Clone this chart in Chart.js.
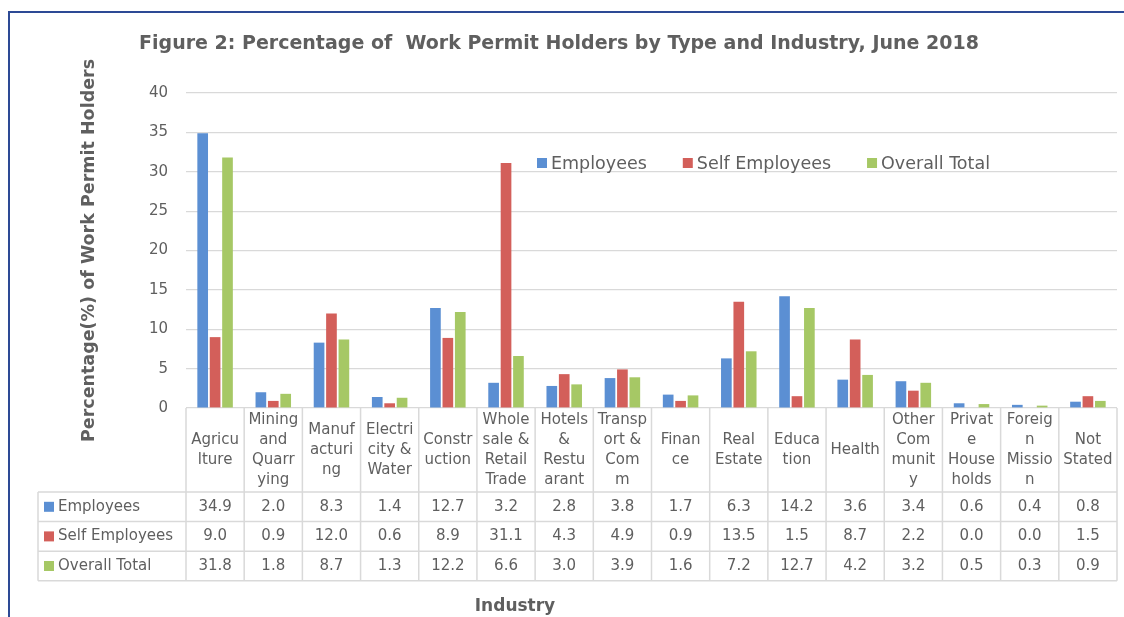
<!DOCTYPE html>
<html>
<head>
<meta charset="utf-8">
<script src="https://cdn.jsdelivr.net/npm/chart.js@4/dist/chart.umd.min.js"></script>
<style>
  html, body { margin: 0; padding: 0; background: #fff; }
  #wrap { position: relative; width: 1124px; height: 617px; overflow: hidden; }
  #frame { position: absolute; left: 8px; top: 11px; width: 1130px; height: 700px;
           border-top: 2px solid #2d4a95; border-left: 2px solid #2d4a95; }
  canvas { position: absolute; left: 0; top: 0; }
</style>
</head>
<body>
<div id="wrap">
  <div id="frame"></div>
  <canvas id="myChart" width="1124" height="617"></canvas>
</div>
<script>
// industry names, wrapped the same way as in the figure
const industries = [
  ["Agricu", "lture"], ["Mining", "and", "Quarr", "ying"], ["Manuf", "acturi", "ng"],
  ["Electri", "city &", "Water"], ["Constr", "uction"], ["Whole", "sale &", "Retail", "Trade"],
  ["Hotels", "&", "Restu", "arant"], ["Transp", "ort &", "Com", "m"], ["Finan", "ce"],
  ["Real", "Estate"], ["Educa", "tion"], ["Health"], ["Other", "Com", "munit", "y"],
  ["Privat", "e", "House", "holds"], ["Foreig", "n", "Missio", "n"], ["Not", "Stated"]
];
const employees     = [34.9, 2.0, 8.3, 1.4, 12.7, 3.2, 2.8, 3.8, 1.7, 6.3, 14.2, 3.6, 3.4, 0.6, 0.4, 0.8];
const selfEmployees = [9.0, 0.9, 12.0, 0.6, 8.9, 31.1, 4.3, 4.9, 0.9, 13.5, 1.5, 8.7, 2.2, 0.0, 0.0, 1.5];
const overallTotal  = [31.8, 1.8, 8.7, 1.3, 12.2, 6.6, 3.0, 3.9, 1.6, 7.2, 12.7, 4.2, 3.2, 0.5, 0.3, 0.9];
const yTicks = [0, 5, 10, 15, 20, 25, 30, 35, 40];

const FONT = "'DejaVu Sans', sans-serif";
const GREY = '#5f5f5f';
const LINE = '#d9d9d9';

// title, legend inside the plot and the data table under it
const tablePlugin = {
    id: 'tablePlugin',
    afterDraw(chart) {
        const ctx = chart.ctx;
        const x = chart.scales.x;
        const area = chart.chartArea;
        const n = chart.data.labels.length;
        const colW = x.width / n;
        const headTop = area.bottom;
        const headH = 84;
        const rowH = 29.6;
        const legLeft = 38;
        const rowsTop = headTop + headH;
        const sets = chart.data.datasets;
        const tableBottom = rowsTop + rowH * sets.length;

        ctx.save();

        // title
        ctx.fillStyle = GREY;
        ctx.font = 'bold 19px ' + FONT;
        ctx.textAlign = 'center';
        ctx.textBaseline = 'middle';
        ctx.fillText('Figure 2: Percentage of  Work Permit Holders by Type and Industry, June 2018', 559, 44);

        // legend in the plot
        ctx.font = '17.5px ' + FONT;
        ctx.textAlign = 'left';
        let lx = 537;
        sets.forEach(ds => {
            ctx.fillStyle = ds.backgroundColor;
            ctx.fillRect(lx, 158, 10, 10);
            ctx.fillStyle = GREY;
            ctx.fillText(ds.label, lx + 14, 164);
            lx += 14 + ctx.measureText(ds.label).width + 36;
        });

        // grid of the table
        ctx.strokeStyle = LINE;
        ctx.lineWidth = 1.5;
        ctx.beginPath();
        for (let r = 0; r <= sets.length; r++) {
            const y = rowsTop + r * rowH;
            ctx.moveTo(legLeft, y);
            ctx.lineTo(x.right, y);
        }
        ctx.moveTo(legLeft, rowsTop);
        ctx.lineTo(legLeft, tableBottom);
        for (let i = 0; i <= n; i++) {
            const cx = x.left + i * colW;
            ctx.moveTo(cx, headTop);
            ctx.lineTo(cx, tableBottom);
        }
        ctx.stroke();

        // category names
        ctx.fillStyle = GREY;
        ctx.font = '15px ' + FONT;
        ctx.textAlign = 'center';
        chart.data.labels.forEach((lab, i) => {
            const cx = x.getPixelForValue(i);
            const lines = Array.isArray(lab) ? lab : [lab];
            const y0 = headTop + headH / 2 - (lines.length - 1) * 10;
            lines.forEach((t, k) => ctx.fillText(t, cx, y0 + k * 20));
        });

        // series rows
        sets.forEach((ds, r) => {
            const cy = rowsTop + r * rowH + rowH / 2;
            ctx.fillStyle = ds.backgroundColor;
            ctx.fillRect(legLeft + 6, cy - 5, 10, 10);
            ctx.fillStyle = GREY;
            ctx.textAlign = 'left';
            ctx.fillText(ds.label, legLeft + 20, cy);
            ctx.textAlign = 'center';
            ds.data.forEach((v, i) => {
                ctx.fillText(v.toFixed(1), x.getPixelForValue(i), cy);
            });
        });

        // x axis title
        ctx.font = 'bold 17px ' + FONT;
        ctx.fillText('Industry', 515, 607);

        ctx.restore();
    }
};

new Chart(document.getElementById('myChart').getContext('2d'), {
    type: 'bar',
    data: {
        labels: industries,
        datasets: [
            { label: 'Employees', data: employees, backgroundColor: '#5b8fd3' },
            { label: 'Self Employees', data: selfEmployees, backgroundColor: '#d35f5a' },
            { label: 'Overall Total', data: overallTotal, backgroundColor: '#a6c865' }
        ]
    },
    options: {
        responsive: false,
        animation: false,
        devicePixelRatio: 1,
        categoryPercentage: 0.64,
        barPercentage: 0.86,
        layout: { padding: { left: 75, right: 7, top: 93, bottom: 209 } },
        plugins: {
            legend: { display: false },
            title: { display: false },
            tooltip: { enabled: false }
        },
        scales: {
            x: { display: false },
            y: {
                min: 0,
                max: 40,
                afterFit: s => { s.width = 111; },
                afterBuildTicks: s => { s.ticks = yTicks.map(v => ({ value: v })); },
                border: { display: false },
                grid: { color: LINE, lineWidth: 1.2, drawTicks: false },
                ticks: { color: GREY, font: { family: FONT, size: 15 }, padding: 18 },
                title: {
                    display: true,
                    text: 'Percentage(%) of Work Permit Holders',
                    color: GREY,
                    font: { family: FONT, size: 17.5, weight: 'bold' },
                    padding: { top: 4, bottom: 0 }
                }
            }
        }
    },
    plugins: [tablePlugin]
});
</script>
</body>
</html>
